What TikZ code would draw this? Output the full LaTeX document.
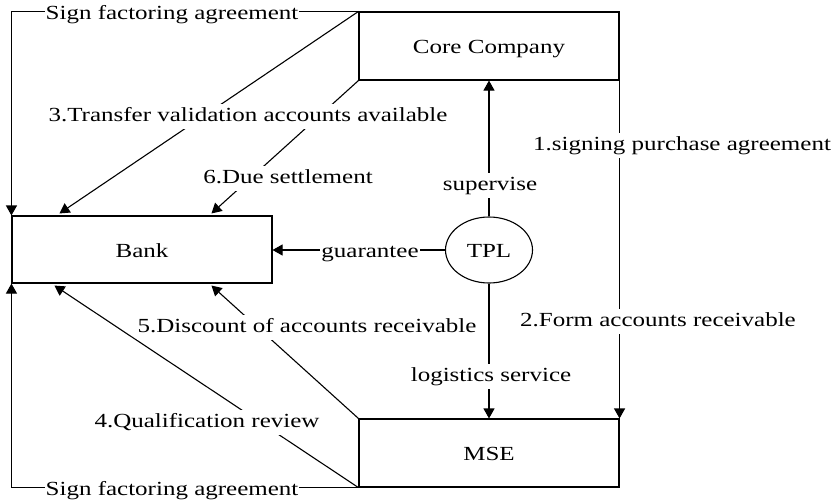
\documentclass[tikz,border=0pt]{standalone}
\usepackage{fontspec}
\setmainfont{Liberation Serif}[FakeStretch=1.25]
\usetikzlibrary{arrows.meta,shapes.geometric,calc}
\begin{document}
\begin{tikzpicture}[x=1pt,y=-1pt,
  every node/.style={font=\fontsize{20}{24}\selectfont},
  box/.style={draw,line width=1.1pt,inner sep=0pt,text height=15pt,text depth=0pt},
  lab/.style={fill=white,inner xsep=1pt,inner ysep=3pt,text height=14pt,text depth=5pt,anchor=base},
  arr/.style={line width=1.1pt,-{Triangle[length=10pt,width=11pt]}}]
\useasboundingbox (0,0) rectangle (834,501);
\node[box,minimum width=260pt,minimum height=68pt] (core) at (489,46) {Core Company};
\node[box,minimum width=260pt,minimum height=67pt] (bank) at (142,249.5) {Bank};
\node[box,minimum width=260pt,minimum height=68pt] (mse) at (489,453) {MSE};
\node[box,ellipse,minimum width=87pt,minimum height=66pt] (tpl) at (489,250) {TPL};
% connectors
\draw[arr] (core.north west) -| (bank.north west);
\draw[arr] (mse.south west) -| (bank.south west);
\draw[arr] (core.north west) -- ($(bank.north west)+(48,-2)$);
\draw[arr] (core.south west) -- ($(bank.north west)+(200,-2)$);
\draw[arr] (mse.north west) -- ($(bank.south west)+(200,2)$);
\draw[arr] (mse.south west) -- ($(bank.south west)+(43,2)$);
\draw[arr] (tpl.west) -- (bank.east |- tpl.west);
\draw[arr] (tpl.north) -- (core.south -| tpl.north);
\draw[arr] (tpl.south) -- (mse.north -| tpl.south);
\draw[arr] (core.south east) -- (mse.north east);
% labels
\node[lab] (l0) at (172,19) {Sign factoring agreement};
\node[lab] (l3) at (248,121) {3.Transfer validation accounts available};
\node[lab] (l6) at (288,183) {6.Due settlement};
\node[lab] (ls) at (490,190) {supervise};
\node[lab] (l1) at (682,150) {1.signing purchase agreement};
\node[lab] (lg) at (370,257) {guarantee};
\node[lab] (l5) at (307,332) {5.Discount of accounts receivable};
\node[lab] (l2) at (658,326) {2.Form accounts receivable};
\node[lab] (ll) at (491,381) {logistics service};
\node[lab] (l4) at (207,427) {4.Qualification review};
\node[lab] (lb) at (172,495) {Sign factoring agreement};
\end{tikzpicture}
\end{document}
